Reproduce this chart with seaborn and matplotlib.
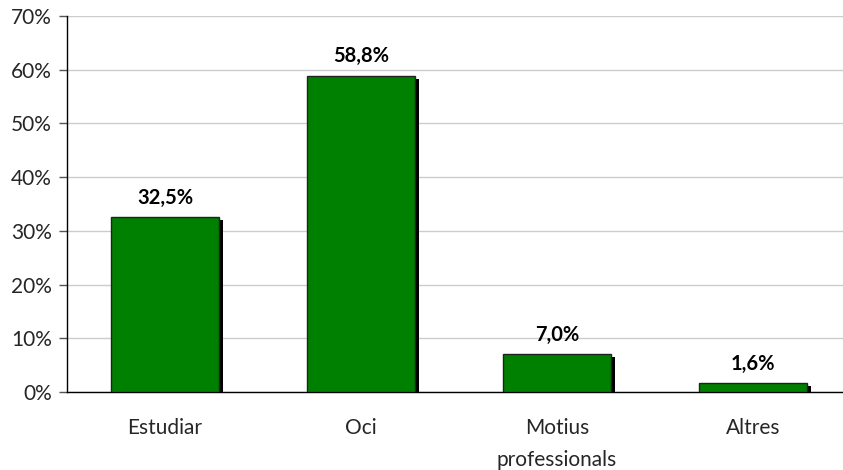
import matplotlib
matplotlib.use("Agg")
import matplotlib.pyplot as plt
import matplotlib.patheffects as pe
from matplotlib.ticker import FixedLocator, PercentFormatter
import seaborn as sns

categories = ["Estudiar", "Oci", "Motius\nprofessionals", "Altres"]
values = [32.5, 58.8, 7.0, 1.6]
labels = ["32,5%", "58,8%", "7,0%", "1,6%"]

sns.set_style("white")
plt.rcParams["font.family"] = ["Lato", "DejaVu Sans"]

fig = plt.figure(figsize=(8.43, 4.70), dpi=100)
ax = fig.add_axes([67 / 843, 1 - 392 / 470, 784 / 843, 376 / 470])

sns.barplot(x=categories, y=values, color="#008000", width=0.55, saturation=1,
            edgecolor="#222222", linewidth=1.0, ax=ax, zorder=3)

# sombra negra desplaçada
for p in ax.patches:
    p.set_path_effects([pe.SimplePatchShadow(offset=(3, -2), shadow_rgbFace="black", alpha=1), pe.Normal()])

for i, (v, t) in enumerate(zip(values, labels)):
    ax.annotate(t, (i, v), xytext=(0, 7), textcoords="offset points",
                ha="center", va="bottom", fontsize=14.5, fontweight="bold", color="black")

ax.set_xlim(-0.5, 3.5)
ax.set_ylim(0, 70)
ax.yaxis.set_major_locator(FixedLocator(range(0, 71, 10)))
ax.yaxis.set_major_formatter(PercentFormatter(decimals=0))
ax.grid(axis="y", color="#cccccc", linewidth=1, zorder=0)
ax.set_axisbelow(True)

ax.xaxis.set_minor_locator(FixedLocator([0.5, 1.5, 2.5]))
ax.tick_params(axis="x", which="major", length=0, pad=19, labelsize=15)
ax.tick_params(axis="x", which="minor", length=6, width=1, color="#444444", direction="out")
ax.tick_params(axis="y", length=6, width=1, color="#555555", direction="out", labelsize=15, pad=5, left=True)
for lbl in ax.get_xticklabels():
    lbl.set_linespacing(1.75)

for s in ["top", "right"]:
    ax.spines[s].set_visible(False)
for s in ["left", "bottom"]:
    ax.spines[s].set_color("black")
    ax.spines[s].set_linewidth(1)

ax.set_xlabel("")
ax.set_ylabel("")
fig.savefig("out.png", dpi=100)
